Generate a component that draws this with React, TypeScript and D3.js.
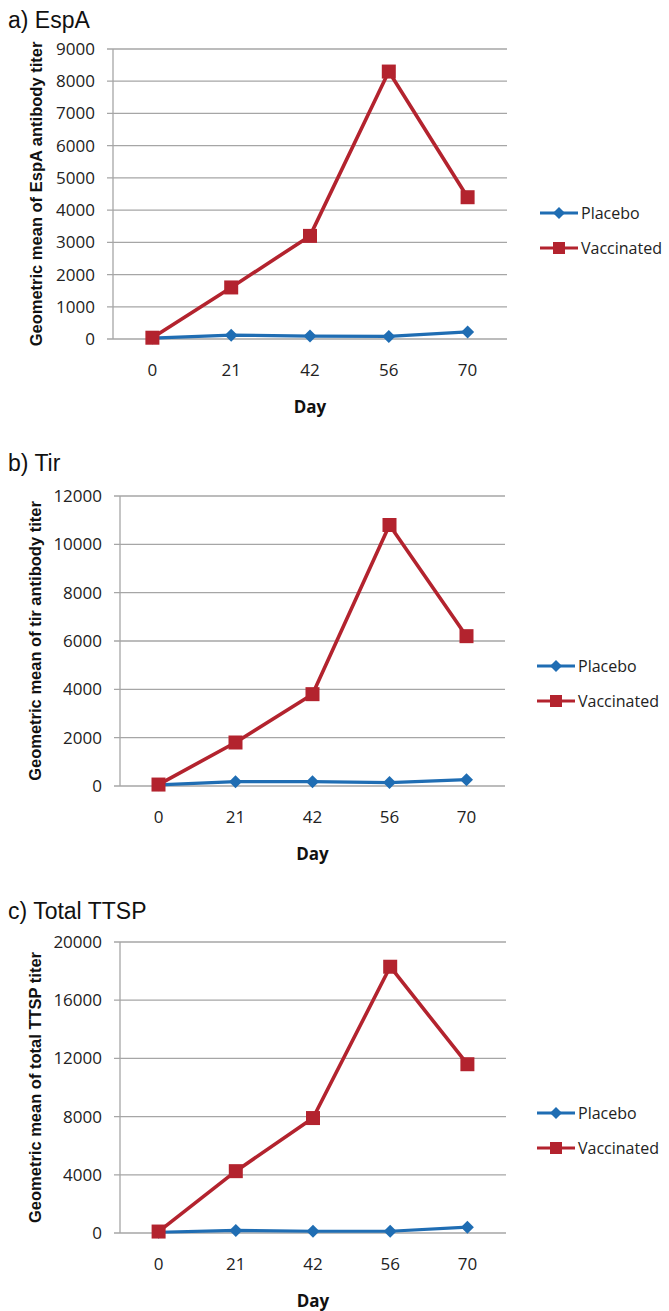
import React from "react";
import * as d3 from "d3";

const days = ["0", "21", "42", "56", "70"];

const espaPlacebo = [30, 120, 90, 80, 220];
const espaVaccinated = [40, 1600, 3200, 8300, 4400];
const espaTicks = [0, 1000, 2000, 3000, 4000, 5000, 6000, 7000, 8000, 9000];

const tirPlacebo = [50, 180, 180, 140, 260];
const tirVaccinated = [60, 1800, 3800, 10800, 6200];
const tirTicks = [0, 2000, 4000, 6000, 8000, 10000, 12000];

const ttspPlacebo = [50, 180, 120, 120, 400];
const ttspVaccinated = [100, 4250, 7900, 18300, 11600];
const ttspTicks = [0, 4000, 8000, 12000, 16000, 20000];

const seriesNames = ["Placebo", "Vaccinated"];

const BLUE = "#1f6db3";
const RED = "#b3232e";
const GRID = "#a6a6a6";
const TICK_FONT = '"Open Sans", "Liberation Sans", sans-serif';
const TITLE_FONT = '"Liberation Sans", Arial, sans-serif';

const panels = [
  {
    title: "a) EspA",
    yLabel: "Geometric mean of EspA antibody titer",
    placebo: espaPlacebo,
    vaccinated: espaVaccinated,
    ticks: espaTicks,
    top: 49,
    bottom: 339,
    left: 113,
    right: 507,
    titleY: 20,
    yLabelX: 36,
    legendX: 540,
    legendY: 213,
  },
  {
    title: "b) Tir",
    yLabel: "Geometric mean of tir antibody titer",
    placebo: tirPlacebo,
    vaccinated: tirVaccinated,
    ticks: tirTicks,
    top: 496,
    bottom: 786,
    left: 120,
    right: 505,
    titleY: 463,
    yLabelX: 35,
    legendX: 537,
    legendY: 666,
  },
  {
    title: "c) Total TTSP",
    yLabel: "Geometric mean of total TTSP titer",
    placebo: ttspPlacebo,
    vaccinated: ttspVaccinated,
    ticks: ttspTicks,
    top: 942,
    bottom: 1233,
    left: 120,
    right: 506,
    titleY: 911,
    yLabelX: 35,
    legendX: 537,
    legendY: 1113,
  },
];

type PanelProps = (typeof panels)[number];

function Square({ x, y, size }: { x: number; y: number; size: number }) {
  return <rect x={x - size / 2} y={y - size / 2} width={size} height={size} fill={RED} />;
}

function Diamond({ x, y, size }: { x: number; y: number; size: number }) {
  const h = size / 2;
  return <path d={`M${x},${y - h}L${x + h},${y}L${x},${y + h}L${x - h},${y}Z`} fill={BLUE} />;
}

function Panel(p: PanelProps) {
  const x = d3.scaleBand().domain(days).range([p.left, p.right]);
  const y = d3
    .scaleLinear()
    .domain([0, p.ticks[p.ticks.length - 1]])
    .range([p.bottom, p.top]);
  const cx = (d: string) => (x(d) as number) + x.bandwidth() / 2;

  const line = d3
    .line<number>()
    .x((_, i) => cx(days[i]))
    .y((v) => y(v));

  const midY = (p.top + p.bottom) / 2;

  return (
    <g>
      <text x={8} y={p.titleY} dy="0.36em" fontFamily={TITLE_FONT} fontSize={23} fill="#111">
        {p.title}
      </text>

      {p.ticks.map((t) => (
        <g key={t}>
          <line x1={p.left - 6} x2={p.right} y1={y(t)} y2={y(t)} stroke={GRID} strokeWidth={1.3} />
          <text
            x={p.left - 18}
            y={y(t)}
            dy="0.35em"
            textAnchor="end"
            fontFamily={TICK_FONT}
            fontSize={17}
            fill="#222"
          >
            {t}
          </text>
        </g>
      ))}
      <line x1={p.left} x2={p.left} y1={p.top} y2={p.bottom} stroke={GRID} strokeWidth={1.3} />

      {days.map((d) => (
        <text
          key={d}
          x={cx(d)}
          y={p.bottom + 31}
          dy="0.35em"
          textAnchor="middle"
          fontFamily={TICK_FONT}
          fontSize={17}
          fill="#222"
        >
          {d}
        </text>
      ))}
      <text
        x={(p.left + p.right) / 2}
        y={p.bottom + 68}
        dy="0.35em"
        textAnchor="middle"
        fontFamily={TICK_FONT}
        fontWeight="bold"
        fontSize={17}
        fill="#111"
      >
        Day
      </text>
      <text
        transform={`translate(${p.yLabelX},${midY}) rotate(-90)`}
        dy="0.35em"
        textAnchor="middle"
        fontFamily={TITLE_FONT}
        fontWeight="bold"
        fontSize={16.5}
        fill="#111"
      >
        {p.yLabel}
      </text>

      <path d={line(p.placebo) || ""} fill="none" stroke={BLUE} strokeWidth={3.2} strokeLinejoin="round" />
      {p.placebo.map((v, i) => (
        <Diamond key={i} x={cx(days[i])} y={y(v)} size={13} />
      ))}
      <path d={line(p.vaccinated) || ""} fill="none" stroke={RED} strokeWidth={3.6} strokeLinejoin="round" />
      {p.vaccinated.map((v, i) => (
        <Square key={i} x={cx(days[i])} y={y(v)} size={14} />
      ))}

      {seriesNames.map((name, i) => {
        const ly = p.legendY + i * 35;
        return (
          <g key={name}>
            <line
              x1={p.legendX}
              x2={p.legendX + 38}
              y1={ly}
              y2={ly}
              stroke={i === 0 ? BLUE : RED}
              strokeWidth={3.2}
            />
            {i === 0 ? (
              <Diamond x={p.legendX + 19} y={ly} size={12} />
            ) : (
              <Square x={p.legendX + 19} y={ly} size={12} />
            )}
            <text
              x={p.legendX + 41}
              y={ly}
              dy="0.35em"
              fontFamily={TICK_FONT}
              fontSize={16}
              fill="#222"
            >
              {name}
            </text>
          </g>
        );
      })}
    </g>
  );
}

export default function App() {
  return (
    <svg
      width={669}
      height={1311}
      style={{ position: "absolute", left: 0, top: 0, background: "#fff" }}
    >
      {panels.map((p) => (
        <Panel key={p.title} {...p} />
      ))}
    </svg>
  );
}
